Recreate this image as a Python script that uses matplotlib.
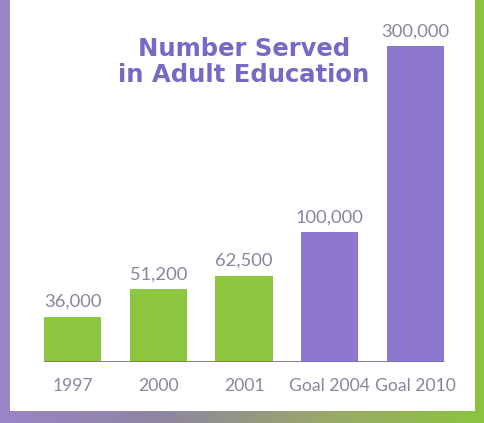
import numpy as np
import matplotlib
matplotlib.use("Agg")
import matplotlib.pyplot as plt
from matplotlib.patches import Rectangle

# data
categories = ["1997", "2000", "2001", "Goal 2004", "Goal 2010"]
served = [36000, 51200, 62500, 100000, 300000]
value_labels = ["36,000", "51,200", "62,500", "100,000", "300,000"]
# bar heights as drawn in the original (not to scale)
drawn_heights = [42800, 69100, 81700, 123300, 300000]
is_goal = [False, False, False, True, True]

GREEN = "#8dc63f"
PURPLE = "#8d77cf"
TITLE = "#7a69c4"
TEXT = "#8a859b"

W, H = 485, 423
fig = plt.figure(figsize=(W / 100, H / 100), dpi=100)

# background strip: purple on the left fading to green on the right
bg = fig.add_axes([0, 0, 1, 1], zorder=0)
grad = np.linspace(0, 1, 256).reshape(1, -1)
cmap = matplotlib.colors.LinearSegmentedColormap.from_list(
    "edge", ["#9a84c8", "#8e86a0", "#9aa86a", "#8cc43f"])
bg.imshow(grad, aspect="auto", cmap=cmap, extent=[0, 1, 0, 1])
bg.set_axis_off()

# white panel
panel = fig.add_axes([0, 0, 1, 1], zorder=1)
panel.set_xlim(0, W)
panel.set_ylim(H, 0)
panel.add_patch(Rectangle((10, 0), 465, 411, facecolor="white", edgecolor="none"))
panel.set_axis_off()

# main chart
ax = fig.add_axes([10 / W, 61.3 / H, 465 / W, (421 - 61.3) / H], zorder=2)
ax.patch.set_alpha(0)
x = np.arange(len(categories))
width = 0.665
colors = [PURPLE if g else GREEN for g in is_goal]
ax.bar(x, drawn_heights, width=width, color=colors, linewidth=0, zorder=2)
ax.hlines(0, x[0] - width / 2, x[-1] + width / 2, color="#7b68c0", linewidth=2, zorder=3)

ax.set_xlim(-0.729, 4.694)
ax.set_ylim(0, 341800)

for xi, h, lab in zip(x, drawn_heights, value_labels):
    ax.annotate(lab, (xi, h), xytext=(0, 7), textcoords="offset points",
                ha="center", va="baseline", fontsize=13.2, color=TEXT,
                family="Lato")

ax.set_xticks(x, categories)
ax.tick_params(axis="x", length=0, pad=12, labelsize=12.6, labelcolor=TEXT)
for t in ax.get_xticklabels():
    t.set_family("Lato")
ax.set_yticks([])
for s in ax.spines.values():
    s.set_visible(False)

fig.text(244 / W, 1 - 82 / H, "Number Served\nin Adult Education",
         ha="center", va="baseline", fontsize=17.5, fontweight="bold",
         color=TITLE, family="DejaVu Sans", linespacing=1.12)

fig.savefig("out.png", dpi=100)
